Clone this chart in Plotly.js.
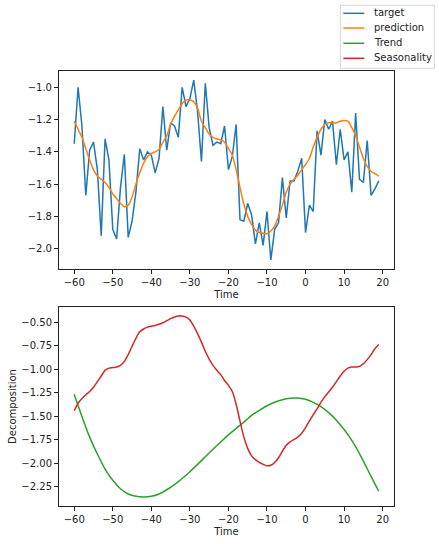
<!DOCTYPE html>
<html>
<head>
<meta charset="utf-8">
<script src="https://cdn.plot.ly/plotly-3.0.1.min.js"></script>
<style>
  body { margin: 0; padding: 0; background: #fff; }
  #plot { width: 439px; height: 544px; }
</style>
</head>
<body>
<div id="plot"></div>
<script>

// Time index shared by the top panel and the seasonality curve
var time = [-60, -59, -58, -57, -56, -55, -54, -53, -52, -51,
  -50, -49, -48, -47, -46, -45, -44, -43, -42, -41,
  -40, -39, -38, -37, -36, -35, -34, -33, -32, -31,
  -30, -29, -28, -27, -26, -25, -24, -23, -22, -21,
  -20, -19, -18, -17, -16, -15, -14, -13, -12, -11,
  -10, -9, -8, -7, -6, -5, -4, -3, -2, -1,
  0, 1, 2, 3, 4, 5, 6, 7, 8, 9,
  10, 11, 12, 13, 14, 15, 16, 17, 18, 19];

var target = [-1.35, -1.00, -1.24, -1.67, -1.39, -1.34, -1.51, -1.92, -1.32, -1.45,
  -1.88, -1.94, -1.62, -1.415, -1.93, -1.83, -1.65, -1.38, -1.45, -1.40,
  -1.42, -1.53, -1.44, -1.12, -1.39, -1.22, -1.24, -1.31, -1.00, -1.12,
  -1.07, -0.955, -1.15, -1.46, -0.975, -1.25, -1.36, -1.34, -1.35, -1.24,
  -1.51, -1.43, -1.23, -1.82, -1.83, -1.72, -1.79, -1.97, -1.84, -1.98,
  -1.77, -2.07, -1.88, -1.84, -1.56, -1.81, -1.58, -1.58, -1.52, -1.44,
  -1.90, -1.73, -1.77, -1.27, -1.42, -1.20, -1.26, -1.21, -1.48, -1.26,
  -1.45, -1.40, -1.65, -1.16, -1.57, -1.59, -1.33, -1.67, -1.63, -1.58];

var prediction = [-1.21, -1.26, -1.31, -1.38, -1.45, -1.51, -1.55, -1.57, -1.59, -1.62,
  -1.66, -1.69, -1.72, -1.74, -1.73, -1.68, -1.60, -1.53, -1.47, -1.43,
  -1.41, -1.40, -1.385, -1.34, -1.30, -1.23, -1.18, -1.14, -1.10, -1.08,
  -1.077, -1.09, -1.13, -1.21, -1.25, -1.29, -1.31, -1.32, -1.325, -1.34,
  -1.38, -1.42, -1.51, -1.62, -1.725, -1.80, -1.85, -1.885, -1.90, -1.905,
  -1.907, -1.89, -1.86, -1.80, -1.73, -1.65, -1.60, -1.57, -1.545, -1.51,
  -1.48, -1.44, -1.37, -1.31, -1.26, -1.23, -1.22, -1.22, -1.22, -1.21,
  -1.205, -1.21, -1.25, -1.30, -1.37, -1.44, -1.49, -1.52, -1.535, -1.55];

var seasonality = [-1.44, -1.36, -1.31, -1.27, -1.235, -1.19, -1.13, -1.07, -1.01, -0.986,
  -0.98, -0.975, -0.957, -0.914, -0.843, -0.754, -0.67, -0.60, -0.57, -0.55,
  -0.54, -0.532, -0.52, -0.504, -0.482, -0.46, -0.443, -0.432, -0.432, -0.443,
  -0.475, -0.54, -0.62, -0.71, -0.807, -0.89, -0.957, -1.01, -1.056, -1.118,
  -1.17, -1.235, -1.37, -1.55, -1.72, -1.84, -1.92, -1.96, -1.99, -2.01,
  -2.025, -2.02, -1.99, -1.94, -1.87, -1.807, -1.77, -1.746, -1.72, -1.68,
  -1.62, -1.55, -1.48, -1.42, -1.35, -1.29, -1.24, -1.19, -1.13, -1.07,
  -1.02, -0.986, -0.975, -0.975, -0.968, -0.94, -0.896, -0.843, -0.78, -0.736];

// Trend read every second step
var trendTime = [-60, -58, -56, -54, -52, -50, -48, -46, -44, -42,
  -40, -38, -36, -34, -32, -30, -28, -26, -24, -22,
  -20, -18, -16, -14, -12, -10, -8, -6, -4, -2,
  0, 2, 4, 6, 8, 10, 12, 14, 16, 18, 19];
var trend = [-1.264, -1.50, -1.72, -1.90, -2.06, -2.18, -2.27, -2.325, -2.35, -2.357,
  -2.35, -2.325, -2.28, -2.225, -2.16, -2.088, -2.01, -1.93, -1.85, -1.772,
  -1.697, -1.627, -1.561, -1.49, -1.435, -1.387, -1.35, -1.322, -1.307, -1.304,
  -1.318, -1.35, -1.396, -1.46, -1.54, -1.64, -1.754, -1.896, -2.057, -2.218, -2.296];

var xTicks = [-60, -50, -40, -30, -20, -10, 0, 10, 20];

var seriesNames = ['target', 'prediction', 'Trend', 'Seasonality'];
var seriesColors = ['#1f77b4', '#ff7f0e', '#2ca02c', '#d62728'];

let tickFont = {family: 'DejaVu Sans, sans-serif', size: 10, color: '#222'};

let make_xaxis = function(anchor) {
  return {
    anchor: anchor,
    domain: [0, 1],
    range: [-63.95, 22.95],
    tickmode: 'array',
    tickvals: xTicks,
    showgrid: false,
    zeroline: false,
    showline: true,
    mirror: true,
    linecolor: '#222',
    linewidth: 1,
    ticks: 'outside',
    ticklen: 4,
    tickcolor: '#222',
    tickfont: tickFont,
    title: {text: 'Time', font: tickFont, standoff: 3}
  };
};

let make_yaxis = function(anchor, domain, range, tick0, dtick, fmt) {
  return {
    anchor: anchor,
    domain: domain,
    range: range,
    tick0: tick0,
    dtick: dtick,
    tickformat: fmt,
    showgrid: false,
    zeroline: false,
    showline: true,
    mirror: true,
    linecolor: '#222',
    linewidth: 1,
    ticks: 'outside',
    ticklen: 4,
    tickcolor: '#222',
    tickfont: tickFont
  };
};

let data = [
  {x: time, y: target, name: seriesNames[0], xaxis: 'x', yaxis: 'y',
   type: 'scatter', mode: 'lines', line: {color: seriesColors[0], width: 1.5}},
  {x: time, y: prediction, name: seriesNames[1], xaxis: 'x', yaxis: 'y',
   type: 'scatter', mode: 'lines', line: {color: seriesColors[1], width: 1.5, shape: 'spline', smoothing: 0.8}},
  {x: trendTime, y: trend, name: seriesNames[2], xaxis: 'x2', yaxis: 'y2',
   type: 'scatter', mode: 'lines', line: {color: seriesColors[2], width: 1.5, shape: 'spline', smoothing: 0.8}},
  {x: time, y: seasonality, name: seriesNames[3], xaxis: 'x2', yaxis: 'y2',
   type: 'scatter', mode: 'lines', line: {color: seriesColors[3], width: 1.5, shape: 'spline', smoothing: 0.8}}
];

// Legend drawn by hand (matplotlib spacing is tighter than plotly's)
// paper coords: x = (px - 59) / 335, y = (506 - py) / 435
let shapes = [{
  type: 'rect', xref: 'paper', yref: 'paper',
  x0: 0.8397, x1: 1.1203, y0: 1.0062, y1: 1.1510,
  line: {color: '#d6d6d6', width: 1}, fillcolor: 'rgba(255,255,255,0.8)'
}];
let annotations = [];
let rowY = [1.1326, 1.0989, 1.0637, 1.0292];
seriesNames.map((name, i) => {
  shapes.push({
    type: 'line', xref: 'paper', yref: 'paper',
    x0: 0.8487, x1: 0.9113, y0: rowY[i], y1: rowY[i],
    line: {color: seriesColors[i], width: 1.5}
  });
  annotations.push({
    xref: 'paper', yref: 'paper',
    x: 0.9352, y: rowY[i] + 0.002,
    xanchor: 'left', yanchor: 'middle',
    text: name, showarrow: false,
    font: tickFont
  });
});

let layout = {
  width: 439,
  height: 544,
  margin: {l: 59, r: 45, t: 71, b: 38},
  paper_bgcolor: '#fff',
  plot_bgcolor: '#fff',
  font: tickFont,
  showlegend: false,
  shapes: shapes,
  annotations: annotations,
  xaxis: make_xaxis('y'),
  yaxis: make_yaxis('x', [0.5448, 1], [-2.126, -0.899], -1.0, 0.2, '.1f'),
  xaxis2: make_xaxis('y2'),
  yaxis2: make_yaxis('x2', [0, 0.4575], [-2.453, -0.336], -0.5, 0.25, '.2f')
};
layout.yaxis2.title = {text: 'Decomposition', font: tickFont, standoff: 2};

Plotly.newPlot('plot', data, layout, {displayModeBar: false, staticPlot: true});

</script>
</body>
</html>
